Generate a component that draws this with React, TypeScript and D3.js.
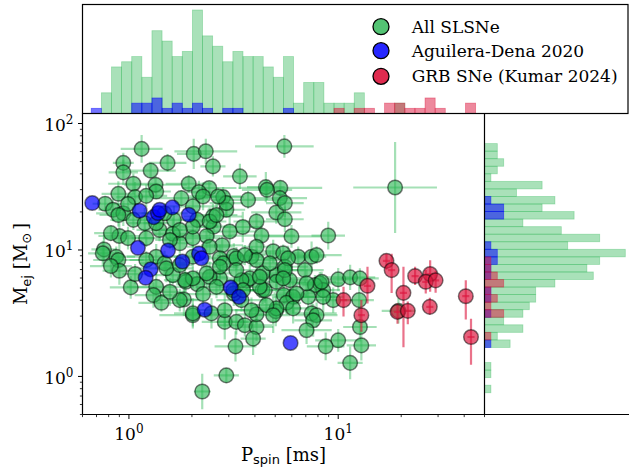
import React from 'react';
import * as d3 from 'd3';

// ---------------- data ----------------
// All SLSNe: spin period [ms], ejecta mass [Msun], symmetric uncertainties (dex)
const slsnP = [
  1.15, 2.04, 2.33, 2.52, 1.53, 1.27, 0.94, 0.94, 5.53, 3.39,
  1.93, 2.42, 2.16, 2.82, 3.71, 4.51, 5.29, 5.06, 0.77, 0.89,
  1.05, 1.07, 1.34, 1.35, 1.21, 1.78, 1.64, 1.48, 2.12, 2.52,
  2.92, 2.54, 2.35, 2.79, 3.17, 3.85, 4.30, 4.07, 3.50, 0.84,
  0.94, 0.99, 0.90, 0.82, 0.99, 0.76, 0.87, 1.35, 1.21, 1.40,
  1.62, 1.75, 2.02, 2.72, 4.89, 5.46, 4.07, 1.05, 1.19, 1.35,
  0.89, 5.26, 0.75, 0.89, 0.90, 1.02, 1.07, 1.35, 1.31, 1.43,
  1.83, 2.02, 1.87, 2.12, 2.26, 2.48, 2.87, 3.26, 3.58, 4.07,
  3.92, 3.23, 4.07, 2.92, 2.24, 3.45, 3.17, 3.65, 4.35, 5.03,
  5.50, 5.07, 4.35, 2.72, 2.43, 2.82, 3.26, 1.48, 1.21, 0.82,
  4.57, 5.56, 5.98, 8.96, 6.44, 7.46, 7.88, 6.93, 8.17, 8.48,
  7.74, 7.19, 9.46, 6.09, 5.66, 5.07, 4.54, 4.46, 4.22, 5.07,
  5.87, 5.56, 4.71, 4.07, 3.78, 3.58, 2.72, 2.35, 2.02, 1.85,
  1.62, 1.51, 1.75, 2.43, 4.22, 2.87, 3.85, 1.75, 1.57, 2.02,
  7.46, 4.89, 3.15, 3.45, 2.62, 2.43, 2.02, 1.75, 1.57, 3.03,
  2.62, 2.92, 2.67, 2.26, 2.02, 2.02, 3.26, 3.51, 5.76, 5.56,
  7.06, 8.33, 8.48, 10.0, 11.4, 12.7, 12.6, 6.32, 6.09, 7.88,
  7.59, 7.06, 12.7, 12.9, 10.0, 8.71, 11.4, 19.4, 5.46, 18.7,
  5.56,
];
const slsnM = [
  63.0, 57.5, 60.3, 45.8, 48.8, 42.4, 48.8, 41.1, 66.0, 38.2,
  33.4, 30.9, 28.7, 26.2, 24.9, 31.4, 31.0, 19.8, 23.2, 27.8,
  33.4, 26.2, 32.8, 29.0, 26.8, 25.7, 17.3, 19.5, 17.3, 18.4,
  20.8, 15.3, 12.9, 10.9, 8.96, 8.85, 13.0, 16.8, 15.2, 20.8,
  19.5, 23.1, 12.9, 13.6, 12.4, 10.1, 8.85, 8.85, 12.4, 14.4,
  13.4, 11.3, 12.4, 8.59, 9.77, 9.41, 10.6, 17.3, 16.3, 16.3,
  18.9, 25.7, 9.41, 8.33, 6.85, 5.06, 6.45, 5.11, 4.40, 3.82,
  4.06, 3.05, 5.60, 5.37, 4.48, 3.15, 2.70, 2.70, 2.54, 2.46,
  1.99, 1.73, 3.10, 1.02, 0.76, 4.01, 4.53, 5.71, 4.81, 3.28,
  4.40, 6.33, 6.53, 5.96, 6.14, 7.84, 8.59, 7.84, 8.33, 7.46,
  29.9, 17.5, 12.8, 13.0, 8.85, 8.85, 9.12, 6.94, 5.44, 4.81,
  5.28, 4.26, 4.01, 4.26, 3.82, 3.45, 3.66, 4.81, 5.11, 5.60,
  5.78, 7.37, 7.84, 8.33, 5.96, 9.12, 7.37, 6.53, 5.96, 5.78,
  6.33, 7.16, 7.60, 10.6, 6.14, 3.34, 3.34, 4.01, 4.67, 3.15,
  3.15, 3.05, 4.81, 5.78, 5.11, 16.8, 15.3, 14.4, 12.0, 14.0,
  18.9, 23.5, 26.5, 26.5, 22.1, 8.85, 6.94, 4.81, 8.59, 6.94,
  5.44, 5.60, 4.26, 5.86, 6.07, 5.96, 4.01, 4.53, 3.45, 3.05,
  2.78, 2.32, 2.46, 1.76, 1.93, 1.73, 1.28, 3.30, 5.96, 31.2,
  23.5,
];
const slsnPErr = [
  0.10, 0.08, 0.15, 0.06, 0.09, 0.12, 0.05, 0.07, 0.14, 0.08,
  0.11, 0.13, 0.06, 0.10, 0.17, 0.09, 0.20, 0.12, 0.06, 0.08,
  0.12, 0.09, 0.15, 0.07, 0.10, 0.13, 0.08, 0.11, 0.06, 0.14,
  0.09, 0.07, 0.12, 0.10, 0.08, 0.06, 0.16, 0.11, 0.09, 0.07,
  0.13, 0.05, 0.10, 0.08, 0.12, 0.06, 0.09, 0.14, 0.07, 0.11,
  0.09, 0.06, 0.13, 0.10, 0.08, 0.18, 0.07, 0.11, 0.08, 0.06,
  0.09, 0.13, 0.07, 0.12, 0.08, 0.10, 0.06, 0.14, 0.09, 0.11,
  0.07, 0.16, 0.08, 0.10, 0.12, 0.07, 0.11, 0.09, 0.13, 0.08,
  0.06, 0.10, 0.09, 0.06, 0.04, 0.12, 0.07, 0.10, 0.15, 0.09,
  0.11, 0.08, 0.06, 0.13, 0.09, 0.10, 0.07, 0.12, 0.08, 0.10,
  0.12, 0.09, 0.14, 0.08, 0.10, 0.07, 0.12, 0.09, 0.11, 0.08,
  0.06, 0.13, 0.09, 0.10, 0.07, 0.12, 0.08, 0.10, 0.06, 0.14,
  0.09, 0.11, 0.08, 0.13, 0.07, 0.10, 0.09, 0.12, 0.07, 0.10,
  0.08, 0.13, 0.06, 0.11, 0.09, 0.12, 0.08, 0.10, 0.07, 0.09,
  0.12, 0.08, 0.11, 0.07, 0.10, 0.08, 0.12, 0.09, 0.07, 0.13,
  0.10, 0.08, 0.11, 0.07, 0.12, 0.09, 0.10, 0.08, 0.13, 0.09,
  0.11, 0.07, 0.10, 0.08, 0.12, 0.09, 0.07, 0.11, 0.08, 0.10,
  0.09, 0.12, 0.08, 0.07, 0.11, 0.09, 0.06, 0.08, 0.10, 0.20,
  0.09,
];
const slsnMErr = [
  0.11, 0.12, 0.10, 0.08, 0.07, 0.06, 0.08, 0.10, 0.09, 0.10,
  0.07, 0.05, 0.09, 0.08, 0.07, 0.12, 0.06, 0.09, 0.06, 0.10,
  0.08, 0.12, 0.07, 0.05, 0.09, 0.06, 0.11, 0.08, 0.07, 0.10,
  0.06, 0.09, 0.13, 0.07, 0.10, 0.08, 0.11, 0.07, 0.12, 0.09,
  0.10, 0.07, 0.11, 0.06, 0.09, 0.12, 0.08, 0.10, 0.07, 0.09,
  0.13, 0.08, 0.07, 0.11, 0.09, 0.07, 0.10, 0.08, 0.12, 0.06,
  0.09, 0.08, 0.10, 0.07, 0.11, 0.09, 0.08, 0.12, 0.10, 0.07,
  0.13, 0.09, 0.08, 0.11, 0.10, 0.12, 0.14, 0.10, 0.09, 0.11,
  0.13, 0.12, 0.08, 0.06, 0.14, 0.09, 0.10, 0.07, 0.11, 0.12,
  0.08, 0.10, 0.07, 0.09, 0.12, 0.08, 0.09, 0.10, 0.07, 0.09,
  0.08, 0.10, 0.09, 0.11, 0.08, 0.12, 0.07, 0.10, 0.09, 0.12,
  0.08, 0.11, 0.10, 0.13, 0.09, 0.11, 0.07, 0.10, 0.09, 0.08,
  0.12, 0.07, 0.10, 0.09, 0.11, 0.08, 0.09, 0.12, 0.08, 0.10,
  0.07, 0.11, 0.09, 0.08, 0.10, 0.13, 0.10, 0.09, 0.11, 0.12,
  0.10, 0.14, 0.08, 0.10, 0.09, 0.11, 0.08, 0.10, 0.07, 0.12,
  0.09, 0.10, 0.07, 0.11, 0.08, 0.09, 0.12, 0.08, 0.10, 0.09,
  0.11, 0.08, 0.12, 0.09, 0.10, 0.08, 0.11, 0.09, 0.12, 0.10,
  0.13, 0.11, 0.10, 0.12, 0.09, 0.11, 0.13, 0.10, 0.08, 0.36,
  0.11,
];

// Aguilera-Dena 2020
const adP = [0.668, 1.125, 1.313, 1.377, 1.403, 1.613, 1.931, 1.104, 1.537, 1.80, 2.163, 2.221, 1.27, 1.202, 3.066, 3.356, 2.302, 5.92];
const adM = [23.5, 20.4, 18.2, 19.6, 20.8, 21.7, 19.0, 10.4, 9.91, 8.10, 9.38, 8.59, 7.03, 6.03, 5.04, 4.26, 3.37, 1.84];

// GRB SNe (Kumar 2024), ejecta mass uncertainties in dex
const grbP = [17.0, 18.0, 23.3, 27.5, 26.2, 29.2, 40.7, 20.5, 10.6, 13.8, 12.9, 19.2, 21.5, 27.4, 43.1];
const grbM = [8.2, 6.93, 6.22, 6.45, 5.6, 5.75, 4.31, 4.58, 4.01, 5.21, 3.05, 3.24, 3.30, 3.55, 2.05];
const grbMErrHi = [0.056, 0.13, 0.074, 0.11, 0.093, 0.074, 0.127, 0.206, 0.106, 0.15, 0.12, 0.066, 0.074, 0.071, 0.145];
const grbMErrLo = [0.071, 0.18, 0.071, 0.14, 0.093, 0.098, 0.185, 0.43, 0.13, 0.14, 0.13, 0.093, 0.106, 0.06, 0.22];

// top histogram (log10 P bins)
const topBinStart = -0.18;
const topBinWidth = 0.04833;
const topSlsn = [0, 4, 9, 10, 11, 7, 16, 14, 11, 12, 20, 15, 13, 10, 12, 11, 11, 9, 7, 11, 2, 6, 6, 2, 2, 2, 4, 0, 0, 0, 2, 0, 0, 0, 0, 0, 0, 0];
const topAD = [1, 0, 0, 0, 2, 2, 3, 1, 2, 1, 2, 1, 0, 1, 1, 0, 0, 0, 0, 1, 0, 0, 0, 0, 0, 0, 0, 0, 0, 0, 0, 0, 0, 0, 0, 0, 0, 0];
const topGRB = [0, 0, 0, 0, 0, 0, 0, 0, 0, 0, 0, 0, 0, 0, 0, 0, 0, 0, 0, 0, 0, 0, 0, 0, 1, 0, 1, 1, 0, 2, 2, 1, 1, 3, 1, 0, 0, 2];

// right histogram (log10 M bins, ascending)
const rightBinStart = -0.129;
const rightBinWidth = 0.0597;
const rightSlsn = [1, 0, 1, 1, 0, 0, 4, 2, 6, 3, 6, 7, 8, 8, 11, 17, 16, 18, 22, 13, 18, 12, 6, 14, 9, 11, 5, 9, 1, 2, 3, 2, 2];
const rightAD = [0, 0, 0, 0, 0, 0, 1, 0, 0, 0, 1, 0, 1, 1, 0, 1, 1, 2, 2, 1, 0, 0, 0, 3, 3, 1, 0, 0, 0, 0, 0, 0, 0];
const rightGRB = [0, 0, 0, 0, 0, 0, 0, 1, 0, 0, 3, 1, 2, 1, 3, 2, 1, 1, 0, 0, 0, 0, 0, 0, 0, 0, 0, 0, 0, 0, 0, 0, 0];

const xTickMajor = [1, 10];
const yTickMajor = [1, 10, 100];
const legendLabels = ['All SLSNe', 'Aguilera-Dena 2020', 'GRB SNe (Kumar 2024)'];

// ---------------- layout ----------------
const W = 629;
const H = 468;
const main = { l: 82.5, r: 484.5, t: 113.5, b: 414.5 };
const topPanel = { t: 4.5, r: 628 };

const GREEN = 'rgb(40,180,80)';
const BLUE = 'rgb(0,0,255)';
const RED = 'rgb(220,20,60)';
const SERIF = "'DejaVu Serif', serif";
const SANS = "'DejaVu Sans', sans-serif";

const x = d3.scaleLog().domain([0.6, 50]).range([main.l, main.r]);
const y = d3.scaleLog().domain([0.5, 120]).range([main.b, main.t]);
const yTop = d3.scaleLinear().domain([0, 21.06]).range([main.t, topPanel.t]);
const xRight = d3.scaleLinear().domain([0, 22.5]).range([main.r, main.r + 144]);

function logTicks(lo: number, hi: number) {
  const out: { v: number; major: boolean }[] = [];
  for (let d = -1; d <= 2; d++) {
    for (let k = 1; k <= 9; k++) {
      const v = k * Math.pow(10, d);
      if (v >= lo * 0.999 && v <= hi * 1.001) out.push({ v, major: k === 1 });
    }
  }
  return out;
}

export default function App() {
  const xTicks = logTicks(0.6, 50);
  const yTicks = logTicks(0.5, 120);

  const topBars = (counts: number[], color: string, fo: number, key: string) =>
    counts.map((c, i) => {
      if (!c) return null;
      const x0 = x(Math.pow(10, topBinStart + i * topBinWidth));
      const x1 = x(Math.pow(10, topBinStart + (i + 1) * topBinWidth));
      return (
        <rect key={key + i} x={x0} y={yTop(c)} width={x1 - x0} height={yTop(0) - yTop(c)}
          fill={color} fillOpacity={fo} stroke={color} strokeOpacity={fo * 0.9} strokeWidth={0.8} />
      );
    });

  const rightBars = (counts: number[], color: string, fo: number, key: string) =>
    counts.map((c, i) => {
      if (!c) return null;
      const y0 = y(Math.pow(10, rightBinStart + i * rightBinWidth));
      const y1 = y(Math.pow(10, rightBinStart + (i + 1) * rightBinWidth));
      return (
        <rect key={key + i} x={xRight(0)} y={y1} width={xRight(c) - xRight(0)} height={y0 - y1}
          fill={color} fillOpacity={fo} stroke={color} strokeOpacity={fo * 0.9} strokeWidth={0.8} />
      );
    });

  const R = 7.3;

  return (
    <svg width={W} height={H} style={{ position: 'absolute', left: 0, top: 0, background: '#fff' }} fontFamily={SERIF}>
      <defs>
        <clipPath id="mainClip">
          <rect x={main.l} y={main.t} width={main.r - main.l} height={main.b - main.t} />
        </clipPath>
      </defs>
      <rect x={0} y={0} width={W} height={H} fill="#fff" />

      {/* top histogram */}
      <g>
        {topBars(topSlsn, GREEN, 0.4, 'ts')}
        {topBars(topAD, BLUE, 0.55, 'ta')}
        {topBars(topGRB, RED, 0.5, 'tg')}
      </g>

      {/* right histogram */}
      <g>
        {rightBars(rightSlsn, GREEN, 0.4, 'rs')}
        {rightBars(rightAD, BLUE, 0.55, 'ra')}
        {rightBars(rightGRB, RED, 0.5, 'rg')}
      </g>

      {/* scatter */}
      <g clipPath="url(#mainClip)">
        {slsnP.map((p, i) => {
          const m = slsnM[i];
          const ex = Math.pow(10, slsnPErr[i]);
          const ey = Math.pow(10, slsnMErr[i]);
          return (
            <g key={'se' + i} stroke={GREEN} strokeOpacity={0.42} strokeWidth={2.2}>
              <line x1={x(p / ex)} x2={x(p * ex)} y1={y(m)} y2={y(m)} />
              <line x1={x(p)} x2={x(p)} y1={y(m / ey)} y2={y(m * ey)} />
            </g>
          );
        })}
        {slsnP.map((p, i) => (
          <circle key={'sp' + i} cx={x(p)} cy={y(slsnM[i])} r={R} fill={GREEN} fillOpacity={0.62}
            stroke="#000" strokeOpacity={0.5} strokeWidth={1.5} />
        ))}
        {adP.map((p, i) => (
          <circle key={'ap' + i} cx={x(p)} cy={y(adM[i])} r={R} fill={BLUE} fillOpacity={0.7}
            stroke="#000" strokeOpacity={0.5} strokeWidth={1.5} />
        ))}
        {grbP.map((p, i) => {
          const m = grbM[i];
          return (
            <g key={'ge' + i} stroke={RED} strokeOpacity={0.6} strokeWidth={2.2}>
              <line x1={x(p)} x2={x(p)} y1={y(m / Math.pow(10, grbMErrLo[i]))} y2={y(m * Math.pow(10, grbMErrHi[i]))} />
              <line x1={x(p / 1.04)} x2={x(p * 1.04)} y1={y(m)} y2={y(m)} />
            </g>
          );
        })}
        {grbP.map((p, i) => (
          <circle key={'gp' + i} cx={x(p)} cy={y(grbM[i])} r={R} fill={RED} fillOpacity={0.68}
            stroke="#000" strokeOpacity={0.5} strokeWidth={1.5} />
        ))}
      </g>

      {/* frames */}
      <rect x={main.l} y={topPanel.t} width={topPanel.r - main.l} height={main.t - topPanel.t}
        fill="none" stroke="#000" strokeWidth={1.2} />
      <line x1={main.l} x2={main.l} y1={main.t} y2={main.b} stroke="#000" strokeWidth={1.2} />
      <line x1={main.l} x2={W} y1={main.b} y2={main.b} stroke="#000" strokeWidth={1.2} />
      <line x1={main.r} x2={main.r} y1={main.t} y2={main.b} stroke="#000" strokeWidth={1.2} />

      {/* x ticks */}
      {xTicks.map((t, i) => (
        <line key={'xt' + i} x1={x(t.v)} x2={x(t.v)} y1={main.b} y2={main.b + (t.major ? 4.5 : 2.6)}
          stroke="#000" strokeWidth={t.major ? 1 : 0.8} />
      ))}
      {xTickMajor.map((v) => (
        <text key={'xl' + v} x={x(v)} y={main.b + 25} textAnchor="middle" fontSize={17} fill="#000">
          10<tspan dy={-7} fontSize={12}>{Math.round(Math.log10(v))}</tspan>
        </text>
      ))}

      {/* y ticks */}
      {yTicks.map((t, i) => (
        <line key={'yt' + i} x1={main.l} x2={main.l - (t.major ? 4.5 : 2.6)} y1={y(t.v)} y2={y(t.v)}
          stroke="#000" strokeWidth={t.major ? 1 : 0.8} />
      ))}
      {yTickMajor.map((v) => (
        <text key={'yl' + v} x={main.l - 9} y={y(v) + 7.5} textAnchor="end" fontSize={17} fill="#000">
          10<tspan dy={-7} fontSize={12}>{Math.round(Math.log10(v))}</tspan>
        </text>
      ))}

      {/* axis labels */}
      <text x={(main.l + main.r) / 2} y={460.5} textAnchor="middle" fontSize={18} fill="#000">
        P<tspan fontFamily={SANS} fontSize={13} dy={3.5}>spin</tspan>
        <tspan dy={-3.5}> [ms]</tspan>
      </text>
      <text transform={`translate(27,${(main.t + main.b) / 2}) rotate(-90)`} textAnchor="middle" fontSize={18} fill="#000">
        M<tspan fontFamily={SANS} fontSize={13} dy={4}>ej</tspan>
        <tspan dy={-4}> [M</tspan>
        <tspan fontFamily={SANS} fontSize={13} dy={4}>⊙</tspan>
        <tspan dy={-4} dx={3}>]</tspan>
      </text>

      {/* legend */}
      {legendLabels.map((lab, i) => {
        const cy = [26.7, 50.7, 76.3][i];
        const col = [GREEN, BLUE, RED][i];
        const fo = [0.8, 0.85, 0.9][i];
        return (
          <g key={'lg' + i}>
            <circle cx={381} cy={cy} r={8} fill={col} fillOpacity={fo} stroke="#000" strokeWidth={1.3} />
            <text x={411.7} y={cy + 6} fontSize={17} fill="#000">{lab}</text>
          </g>
        );
      })}
    </svg>
  );
}
